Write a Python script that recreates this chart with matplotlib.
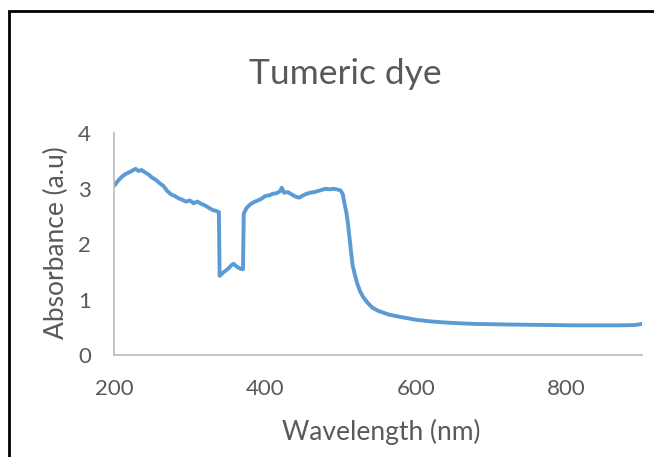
import matplotlib
matplotlib.use("Agg")
import matplotlib.pyplot as plt
from matplotlib.patches import Rectangle

# UV-Vis absorbance spectrum of turmeric dye
wavelength_nm = [
    200, 205, 210, 215, 220, 224, 228, 232, 236, 240, 245, 250, 255, 260, 265,
    270, 275, 280, 285, 290, 295, 300, 305, 310, 315, 320, 325, 330, 335, 338.5,
    339.5, 345, 350, 355, 358, 362, 367, 370.5, 371.5, 375, 380, 385, 390, 395,
    400, 405, 410, 415, 420, 422, 425, 430, 435, 440, 445, 450, 455, 460, 465,
    470, 475, 480, 485, 490, 495, 500, 503, 505, 508, 510, 512, 514, 516, 519,
    522, 526, 530, 535, 542, 550, 565, 580, 600, 620, 640, 660, 680, 700, 720,
    750, 780, 810, 840, 870, 890, 900,
]
absorbance = [
    3.06, 3.15, 3.22, 3.27, 3.30, 3.33, 3.36, 3.32, 3.34, 3.30, 3.26, 3.20, 3.16, 3.10, 3.05,
    2.96, 2.90, 2.87, 2.83, 2.80, 2.77, 2.79, 2.74, 2.77, 2.73, 2.70, 2.66, 2.62, 2.60, 2.58,
    1.43, 1.50, 1.55, 1.62, 1.65, 1.60, 1.56, 1.55, 2.55, 2.65, 2.72, 2.76, 2.79, 2.82,
    2.87, 2.88, 2.91, 2.92, 2.96, 3.02, 2.93, 2.94, 2.90, 2.86, 2.84, 2.88, 2.91, 2.93, 2.94,
    2.96, 2.98, 3.00, 2.99, 3.00, 2.99, 2.97, 2.90, 2.75, 2.55, 2.35, 2.10, 1.85, 1.62, 1.45,
    1.30, 1.15, 1.05, 0.96, 0.86, 0.80, 0.73, 0.69, 0.64, 0.61, 0.59, 0.575, 0.565, 0.56, 0.555,
    0.55, 0.545, 0.54, 0.54, 0.54, 0.545, 0.565,
]

x_ticks = [200, 400, 600, 800]
y_ticks = [0, 1, 2, 3, 4]

title = "Tumeric dye"
x_label = "Wavelength (nm)"
y_label = "Absorbance (a.u)"

text_color = "#595959"
line_color = "#5B9BD5"
axis_color = "#BFBFBF"
font = ["Lato", "DejaVu Sans"]

W, H = 654, 457
fig = plt.figure(figsize=(W / 100, H / 100), dpi=100)
fig.patch.set_facecolor("white")

ax = fig.add_axes([114.5 / W, (H - 355.3) / H, (642 - 114.5) / W, (355.3 - 133.3) / H])
ax.plot(wavelength_nm, absorbance, color=line_color, lw=2.8,
        solid_joinstyle="round", solid_capstyle="round")

ax.set_xlim(200, 900)
ax.set_ylim(0, 4)
ax.set_xticks(x_ticks)
ax.set_yticks(y_ticks)

for side in ("top", "right"):
    ax.spines[side].set_visible(False)
for side in ("left", "bottom"):
    ax.spines[side].set_color(axis_color)
    ax.spines[side].set_linewidth(1.3)

ax.tick_params(axis="both", length=0, labelsize=16, labelcolor=text_color)
ax.tick_params(axis="y", pad=17)
ax.tick_params(axis="x", pad=17)
for lab in ax.get_xticklabels() + ax.get_yticklabels():
    lab.set_family(font)

fig.text(345.5 / W, (H - 74) / H, title, ha="center", va="center",
         fontsize=25.5, color=text_color, family=font)
fig.text(381 / W, (H - 432) / H, x_label, ha="center", va="center",
         fontsize=19, color=text_color, family=font)
fig.text(56 / W, (H - 243) / H, y_label, ha="center", va="center",
         rotation=90, fontsize=19, color=text_color, family=font)

# chart frame
fig.patches.append(Rectangle((8.5 / W, -0.1), 1.2, (H - 10.5) / H + 0.1,
                             transform=fig.transFigure, fill=False,
                             edgecolor="black", linewidth=2.0))

fig.savefig("out.png", dpi=100, facecolor="white")
